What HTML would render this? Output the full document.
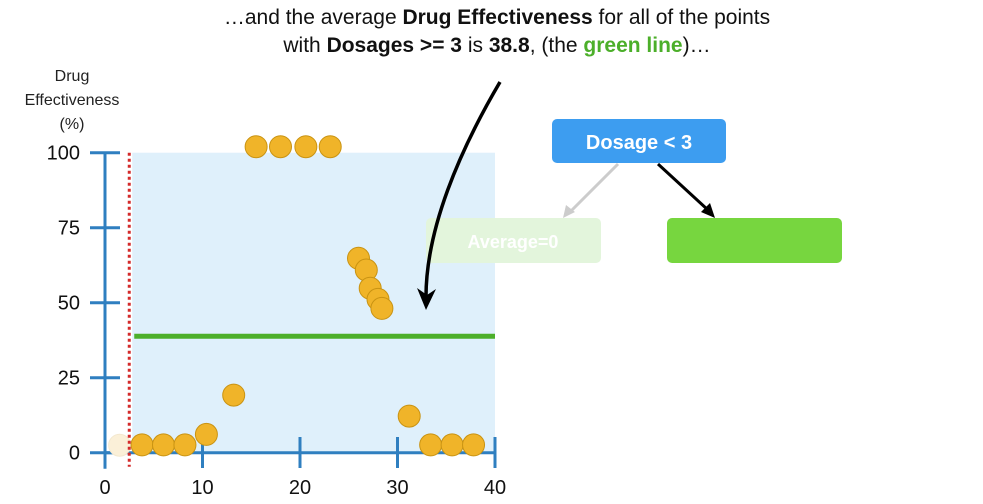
<!DOCTYPE html>
<html><head><meta charset="utf-8"><style>
body{margin:0;background:#fff;width:983px;height:499px;overflow:hidden;font-family:"Liberation Sans",sans-serif}
</style></head><body>
<svg width="983" height="499" font-family="Liberation Sans, sans-serif">
<text x="497" y="24" text-anchor="middle" font-size="21" fill="#111">…and the average <tspan font-weight="bold">Drug Effectiveness</tspan> for all of the points</text>
<text x="497" y="52" text-anchor="middle" font-size="21" fill="#111">with <tspan font-weight="bold">Dosages &gt;= 3</tspan> is <tspan font-weight="bold">38.8</tspan>, (the <tspan font-weight="bold" fill="#4caf2a">green line</tspan>)…</text>
<g font-size="16" fill="#222" text-anchor="middle">
<text x="72" y="81">Drug</text><text x="72" y="105">Effectiveness</text><text x="72" y="129">(%)</text></g>
<g id="plot"></g>
<g>
<rect x="552" y="119" width="174" height="44" rx="5" fill="#3d9df0"/>
<text x="639" y="149" text-anchor="middle" font-size="20" font-weight="bold" fill="#fff">Dosage &lt; 3</text>
<line x1="618" y1="164" x2="570" y2="212" stroke="#ccc" stroke-width="3"/>
<path d="M563 218 L566 205 L575 212 Z" fill="#ccc"/>
<line x1="658" y1="164" x2="708" y2="210" stroke="#000" stroke-width="3"/>
<path d="M715 218 L701 212 L710 203 Z" fill="#000"/>
<rect x="426" y="218" width="175" height="45" rx="5" fill="#e3f5dc"/>
<text x="513" y="248" text-anchor="middle" font-size="18" font-weight="bold" fill="#fff">Average=0</text>
<rect x="667" y="218" width="175" height="45" rx="5" fill="#77d63f"/>
</g>
<path d="M500 82 C460 150 425 230 426 300" fill="none" stroke="#000" stroke-width="3.5"/>
<path d="M426 310 L417 288 L427 295 L436 289 Z" fill="#000"/>
</svg>
<script>
const xVals=[1.5,3.8,6.0,8.2,10.4,13.2,15.5,18.0,20.6,23.1,26.0,26.8,27.2,28.0,28.4,31.2,33.4,35.6,37.8];
const yVals=[2.5,2.6,2.6,2.6,6.1,19.2,102,102,102,102,64.8,60.9,54.8,51.1,48.1,12.2,2.6,2.6,2.6];
const xTicks=[0,10,20,30,40];
const yTicks=[0,25,50,75,100];
const split=3;
const avgRight=38.8;
const NS="http://www.w3.org/2000/svg";
const sx=v=>105+v*9.75, sy=v=>452.7-v*3.0;
const g=document.getElementById('plot');
function mk(t,a){const e=document.createElementNS(NS,t);for(const k in a)e.setAttribute(k,a[k]);g.appendChild(e);return e;}
let r=mk('rect',{x:sx(split)-2,y:sy(100),width:sx(40)-sx(split)+2,height:sy(0)-sy(100),fill:'#dff0fb'});


let ya=mk('line',{x1:sx(0),y1:sy(100),x2:sx(0),y2:sy(0)+16,stroke:'#2f7fc0','stroke-width':3});


let xa=mk('line',{x1:sx(0),y1:sy(0),x2:sx(40),y2:sy(0),stroke:'#2f7fc0','stroke-width':3});


yTicks.forEach(t=>{
 let l=mk('line',{x1:90,y1:sy(t),x2:120,y2:sy(t),stroke:'#2f7fc0','stroke-width':3});
 
 
 let tx=mk('text',{x:80,y:sy(t)+7,'text-anchor':'end','font-size':20,fill:'#111'});tx.textContent=t;
 
 
});
xTicks.forEach(t=>{
 let l=mk('line',{x1:sx(t),y1:437,x2:sx(t),y2:468,stroke:'#2f7fc0','stroke-width':3});
 
 
 let tx=mk('text',{x:sx(t),y:494,'text-anchor':'middle','font-size':20,fill:'#111'});tx.textContent=t;
 
 
});
let gl=mk('line',{x1:sx(split),y1:sy(avgRight),x2:sx(40),y2:sy(avgRight),stroke:'#4caf2a','stroke-width':5});


xVals.forEach((x,i)=>{
 const faded=x<split;
 let c=mk('circle',{cx:sx(x),cy:sy(yVals[i]),r:11,fill:faded?'#fbf0d8':'#f0b429',stroke:faded?'#f3e8cf':'#c99312','stroke-width':1});
 
 
});
let sl=mk('line',{x1:sx(split)-5,y1:sy(100),x2:sx(split)-5,y2:sy(0)+14,stroke:'#d42a2a','stroke-width':3,'stroke-dasharray':'3 3'});


</script>
</body></html>
